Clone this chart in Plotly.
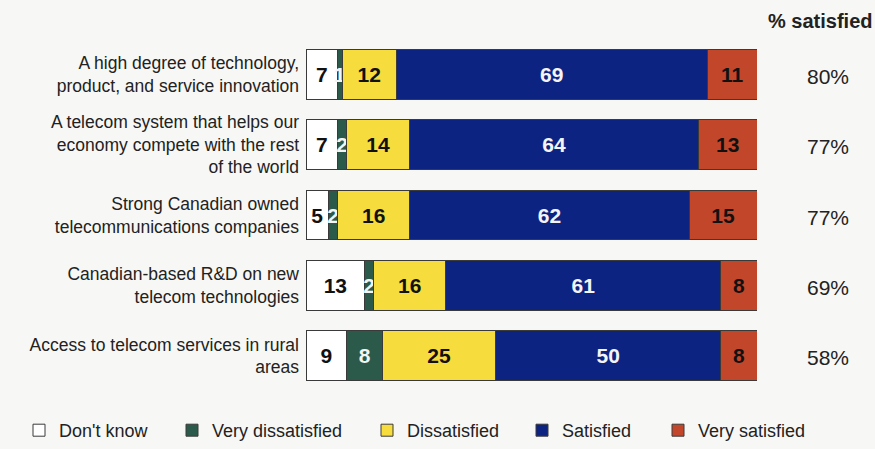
import plotly.graph_objects as go

categories = [
    "A high degree of technology,<br>product, and service innovation",
    "A telecom system that helps our<br>economy compete with the rest<br>of the world",
    "Strong Canadian owned<br>telecommunications companies",
    "Canadian-based R&D on new<br>telecom technologies",
    "Access to telecom services in rural<br>areas",
]
dont_know = [7, 7, 5, 13, 9]
very_dissatisfied = [1, 2, 2, 2, 8]
dissatisfied = [12, 14, 16, 16, 25]
satisfied = [69, 64, 62, 61, 50]
very_satisfied = [11, 13, 15, 8, 8]
pct_satisfied = ["80%", "77%", "77%", "69%", "58%"]

series = [
    ("Don't know", dont_know, "#ffffff", "#111111"),
    ("Very dissatisfied", very_dissatisfied, "#2b5a4a", "#f4f4f4"),
    ("Dissatisfied", dissatisfied, "#f6dc3c", "#111111"),
    ("Satisfied", satisfied, "#0d2382", "#f4f4f4"),
    ("Very satisfied", very_satisfied, "#c2462a", "#111111"),
]
# left edge of each legend entry's text, in pixels
legend_text_x = [59, 212, 407, 562, 698]

W, H = 875, 449
ML, MR, MT, MB = 306, 118, 39, 58
PW, PH = W - ML - MR, H - MT - MB
FONT = "Liberation Sans, Arial"

fig = go.Figure()
legend_layout = {}
for i, (name, vals, color, tcolor) in enumerate(series):
    lname = "legend" if i == 0 else f"legend{i+1}"
    fig.add_trace(go.Bar(
        y=categories, x=vals, name=name, orientation="h",
        marker=dict(color=color, line=dict(color="#3a3a3a", width=1)),
        text=[str(v) for v in vals], textposition="inside",
        insidetextanchor="middle", textangle=0, constraintext="none",
        textfont=dict(family=FONT, size=21, color=tcolor, weight="bold"),
        legend=lname, hoverinfo="skip",
    ))
    legend_layout[lname] = dict(
        xref="container", yref="container",
        x=(legend_text_x[i] - 40) / W, xanchor="left",
        y=0.0, yanchor="bottom",
        orientation="h", bgcolor="rgba(0,0,0,0)",
        font=dict(family=FONT, size=18, color="#222"),
        itemwidth=30,
    )

for cat, p in zip(categories, pct_satisfied):
    fig.add_annotation(x=(828 - ML) / PW, xref="paper", xanchor="center",
                       y=cat, yref="y", yanchor="middle", yshift=-2,
                       text=p, showarrow=False,
                       font=dict(family=FONT, size=21, color="#222"))
fig.add_annotation(x=(820 - ML) / PW, xref="paper", xanchor="center",
                   y=(MT + PH - 21) / PH, yref="paper", yanchor="middle",
                   text="<b>% satisfied</b>", showarrow=False,
                   font=dict(family=FONT, size=20, color="#222"))

fig.update_layout(
    width=W, height=H, barmode="stack", bargap=0.29,
    margin=dict(l=ML, r=MR, t=MT, b=MB),
    paper_bgcolor="#f7f7f5", plot_bgcolor="#f7f7f5",
    showlegend=True, **legend_layout,
    xaxis=dict(range=[0, 100], visible=False, fixedrange=True),
    yaxis=dict(autorange="reversed", showgrid=False, zeroline=False, showline=False,
               ticks="", ticklabelstandoff=6,
               tickfont=dict(family=FONT, size=17.5, color="#222")),
)

fig.write_html("out.html")
